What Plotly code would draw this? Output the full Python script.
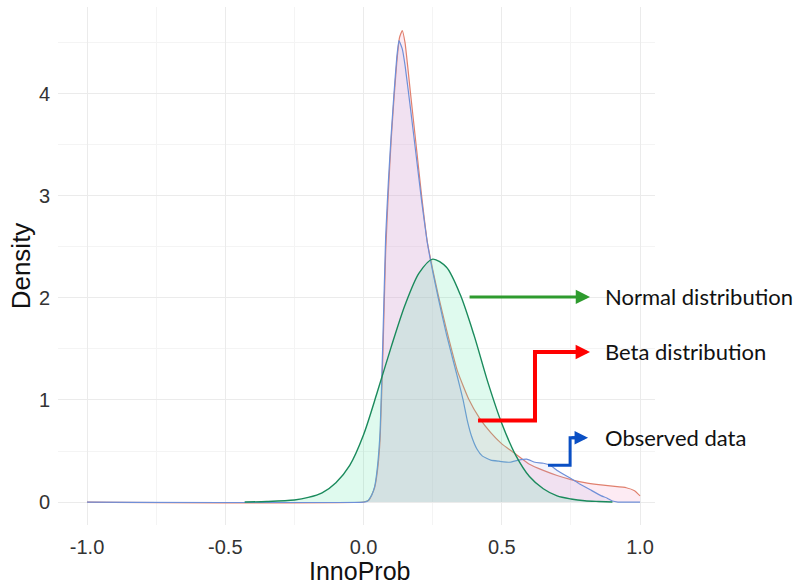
import plotly.graph_objects as go

# ---- data ----
beta_x = [-1.0, 0.0, 0.02, 0.04, 0.05, 0.06, 0.07, 0.08, 0.09, 0.10, 0.11, 0.12, 0.13, 0.14,
          0.15, 0.17, 0.19, 0.21, 0.23, 0.25, 0.27, 0.30, 0.34, 0.38, 0.42, 0.46, 0.50, 0.55,
          0.60, 0.65, 0.70, 0.75, 0.80, 0.85, 0.90, 0.95, 0.98, 1.0]
beta_y = [0.0, 0.0, 0.02, 0.14, 0.30, 0.62, 1.45, 2.45, 3.05, 3.55, 3.95, 4.30, 4.55, 4.62,
          4.50, 4.00, 3.50, 3.00, 2.56, 2.28, 2.03, 1.69, 1.28, 1.01, 0.82, 0.68, 0.57, 0.47,
          0.37, 0.31, 0.26, 0.22, 0.19, 0.17, 0.155, 0.14, 0.11, 0.06]

obs_x = [-1.0, 0.0, 0.015, 0.03, 0.04, 0.05, 0.06, 0.07, 0.08, 0.09, 0.10, 0.11, 0.12, 0.128,
         0.14, 0.15, 0.17, 0.19, 0.21, 0.23, 0.25, 0.27, 0.30, 0.34, 0.36, 0.375, 0.39, 0.41,
         0.43, 0.46, 0.49, 0.53, 0.56, 0.59, 0.62, 0.65, 0.675, 0.70, 0.75, 0.78, 0.82, 0.86,
         0.88, 0.90, 0.92, 1.0]
obs_y = [0.0, 0.0, 0.01, 0.07, 0.15, 0.34, 0.70, 1.60, 2.60, 3.15, 3.60, 4.00, 4.35, 4.52,
         4.44, 4.28, 3.85, 3.40, 2.95, 2.55, 2.26, 2.00, 1.64, 1.22, 1.00, 0.80, 0.65, 0.52,
         0.45, 0.41, 0.40, 0.39, 0.41, 0.42, 0.39, 0.38, 0.36, 0.31, 0.23, 0.18, 0.12, 0.06,
         0.04, 0.01, 0.0, 0.0]

norm_x = [-0.43, -0.35, -0.25, -0.20, -0.15, -0.10, -0.05, 0.0, 0.05, 0.10, 0.15, 0.20, 0.25,
          0.30, 0.35, 0.40, 0.45, 0.50, 0.55, 0.60, 0.65, 0.70, 0.75, 0.80, 0.85, 0.90]
norm_y = [0.0, 0.005, 0.02, 0.045, 0.09, 0.19, 0.36, 0.66, 1.08, 1.52, 1.93, 2.24, 2.38,
          2.30, 2.03, 1.63, 1.17, 0.77, 0.46, 0.25, 0.13, 0.06, 0.03, 0.012, 0.005, 0.0]

x_tickvals = [-1.0, -0.5, 0.0, 0.5, 1.0]
x_ticktext = ["-1.0", "-0.5", "0.0", "0.5", "1.0"]
y_tickvals = [0, 1, 2, 3, 4]
y_ticktext = ["0", "1", "2", "3", "4"]

labels = ["Normal distribution", "Beta distribution", "Observed data"]
label_y = [2.01, 1.47, 0.63]

fig = go.Figure()
fig.add_trace(go.Scatter(x=beta_x, y=beta_y, mode="lines", fill="tozeroy",
                         line=dict(color="#E0806E", width=1.2, shape="spline", smoothing=0.4),
                         fillcolor="rgba(245,165,200,0.22)", name="Beta"))
fig.add_trace(go.Scatter(x=obs_x, y=obs_y, mode="lines", fill="tozeroy",
                         line=dict(color="#6F8FD8", width=1.2, shape="spline", smoothing=0.4),
                         fillcolor="rgba(160,165,230,0.13)", name="Observed"))
fig.add_trace(go.Scatter(x=norm_x, y=norm_y, mode="lines", fill="tozeroy",
                         line=dict(color="#1A8A5C", width=1.4, shape="spline", smoothing=0.8),
                         fillcolor="rgba(80,225,160,0.18)", name="Normal"))

# arrows (polylines as shapes, heads as annotations)
fig.add_shape(type="path", path="M 0.414 0.80 L 0.62 0.80 L 0.62 1.47 L 0.78 1.47",
              xref="x", yref="y", line=dict(color="#FF0000", width=4))
fig.add_shape(type="path", path="M 0.667 0.36 L 0.747 0.36 L 0.747 0.63 L 0.78 0.63",
              xref="x", yref="y", line=dict(color="#0A4FC4", width=3))

arrow_specs = [
    (0.378, 0.819, 2.01, "#2E9B2E", 3, 0.95),
    (0.70, 0.819, 1.47, "#FF0000", 4, 0.72),
    (0.747, 0.812, 0.63, "#0A4FC4", 3, 0.9),
]
for (x0, x1, yy, col, w, sz) in arrow_specs:
    fig.add_annotation(x=x1, y=yy, ax=x0, ay=yy, xref="x", yref="y", axref="x", ayref="y",
                       showarrow=True, arrowhead=2, arrowsize=sz,
                       arrowwidth=w, arrowcolor=col, text="")

for lab, yy in zip(labels, label_y):
    fig.add_annotation(x=0.866, y=yy, xref="x", yref="y", text=lab, showarrow=False,
                       xanchor="left", yanchor="middle",
                       font=dict(family="Lato", size=22, color="#111111"))

# x-axis title as a paper annotation (fixed position like the reference)
fig.add_annotation(x=0.505, y=-0.089, xref="paper", yref="paper", text="InnoProb",
                   showarrow=False, xanchor="center", yanchor="middle",
                   font=dict(family="Liberation Sans", size=25, color="#111111"))

fig.update_layout(
    width=794, height=586,
    margin=dict(l=58, r=139, t=7, b=61, autoexpand=False),
    paper_bgcolor="white", plot_bgcolor="white",
    showlegend=False,
    font=dict(family="Liberation Sans", color="#333333"),
)
fig.update_xaxes(range=[-1.105, 1.054], tickvals=x_tickvals, ticktext=x_ticktext,
                 showgrid=True, gridcolor="#EBEBEB", gridwidth=1.2, zeroline=False,
                 showline=False, ticks="", tickfont=dict(size=20, color="#333333"),
                 ticklabelstandoff=8, automargin=False,
                 minor=dict(dtick=0.25, tick0=0, showgrid=True, gridcolor="#F4F4F4", gridwidth=1))
fig.update_yaxes(range=[-0.225, 4.85], tickvals=y_tickvals, ticktext=y_ticktext,
                 showgrid=True, gridcolor="#EBEBEB", gridwidth=1.2, zeroline=False,
                 showline=False, ticks="", tickfont=dict(size=20, color="#333333"),
                 ticklabelstandoff=7, automargin=False,
                 minor=dict(dtick=0.5, tick0=0, showgrid=True, gridcolor="#F4F4F4", gridwidth=1),
                 title=dict(text="Density", font=dict(size=26, color="#111111"), standoff=0))

fig.write_html("out.html", config={"displayModeBar": False},
               post_script="document.body.style.margin='0px';document.body.style.overflow='hidden';")
